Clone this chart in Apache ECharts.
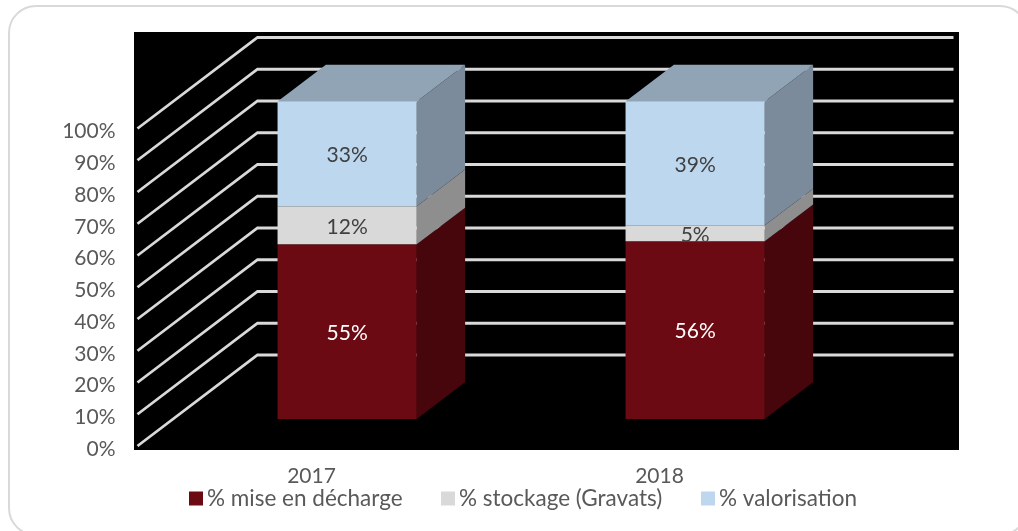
<!DOCTYPE html>
<html>
<head>
<meta charset="utf-8">
<title>Déchets 2017-2018</title>
<style>
  html, body { margin: 0; padding: 0; background: #fff; }
  #chart { width: 1018px; height: 531px; }
</style>
<script src="https://cdn.jsdelivr.net/npm/echarts@6/dist/echarts.min.js"></script>
</head>
<body>
<div id="chart"></div>
<script>
// valeurs
const years = ['2017', '2018'];
const decharge = [55, 56];
const stockage = [12, 5];
const valorisation = [33, 39];
const ticks = [0, 10, 20, 30, 40, 50, 60, 70, 80, 90, 100];

const FONT = 'Lato, "Open Sans", sans-serif';
const TEXT_COLOR = '#595959';

// profondeur du faux 3D : decalage entre le plan avant et le mur du fond
const DEPTH_X = 120;
const DEPTH_Y = 91;
const BAR_FRONT = 0.297;
const BAR_BACK = 0.7;
const BAR_WIDTH = 0.4;

const chart = echarts.init(document.getElementById('chart'));

// une colonne : face avant, cote droit et eventuellement le dessus
function renderSegment(colors, labelColor, withTop) {
  return function (params, api) {
    const cat = api.value(0);
    const low = api.coord([cat, api.value(1)]);
    const high = api.coord([cat, api.value(2)]);
    const w = api.size([1, 0])[0] * BAR_WIDTH;
    const x0 = low[0] + DEPTH_X * BAR_FRONT - w / 2;
    const x1 = x0 + w;
    const y0 = low[1] - DEPTH_Y * BAR_FRONT;
    const y1 = high[1] - DEPTH_Y * BAR_FRONT;
    const dx = DEPTH_X * (BAR_BACK - BAR_FRONT);
    const dy = DEPTH_Y * (BAR_BACK - BAR_FRONT);

    const children = [
      {
        type: 'polygon',
        shape: { points: [[x1, y0], [x1 + dx, y0 - dy], [x1 + dx, y1 - dy], [x1, y1]] },
        style: { fill: colors.side }
      },
      {
        type: 'rect',
        shape: { x: x0, y: y1, width: w, height: y0 - y1 },
        style: { fill: colors.front }
      }
    ];
    if (withTop) {
      children.push({
        type: 'polygon',
        shape: { points: [[x0, y1], [x0 + dx, y1 - dy], [x1 + dx, y1 - dy], [x1, y1]] },
        style: { fill: colors.top }
      });
    }
    children.push({
      type: 'text',
      style: {
        x: (x0 + x1) / 2,
        y: (y0 + y1) / 2 + 1.5,
        text: (api.value(2) - api.value(1)) + '%',
        align: 'center',
        verticalAlign: 'middle',
        fill: labelColor,
        font: '21px ' + FONT
      }
    });
    return { type: 'group', children: children };
  };
}

// quadrillage : diagonale sur le plancher de gauche puis horizontale sur le mur du fond
function renderGridLine(params, api) {
  const sys = params.coordSys;
  const y = api.coord([0, api.value(0)])[1];
  return {
    type: 'polyline',
    shape: {
      points: [
        [sys.x, y],
        [sys.x + DEPTH_X, y - DEPTH_Y],
        [sys.x + sys.width + DEPTH_X, y - DEPTH_Y]
      ]
    },
    style: { fill: null, stroke: '#D9D9D9', lineWidth: 2.8 }
  };
}

function segmentData(values, bases) {
  return values.map(function (v, i) { return [i, bases[i], bases[i] + v]; });
}

const base1 = decharge;
const base2 = decharge.map(function (v, i) { return v + stockage[i]; });

function legendAt(name, left) {
  return {
    data: [name],
    left: left,
    top: 482,
    itemWidth: 14,
    itemHeight: 14,
    itemGap: 0,
    icon: 'rect',
    textStyle: { color: TEXT_COLOR, fontFamily: FONT, fontSize: 22.5, padding: [0, 0, 0, -1] }
  };
}

chart.setOption({
  animation: false,
  backgroundColor: '#fff',
  // cadre arrondi et fond noir de la zone de trace
  graphic: [
    {
      type: 'rect',
      shape: { x: 9, y: 6, width: 1018, height: 529, r: 27 },
      style: { fill: '#fff', stroke: '#D9D9D9', lineWidth: 2 },
      silent: true,
      z: -2
    },
    {
      type: 'rect',
      shape: { x: 134, y: 32, width: 825, height: 418 },
      style: { fill: '#000' },
      silent: true,
      z: -1
    }
  ],
  grid: { left: 137.5, width: 696, top: 128.5, height: 317.5 },
  xAxis: {
    type: 'category',
    data: years,
    axisLine: { show: false },
    axisTick: { show: false },
    axisLabel: { color: TEXT_COLOR, fontFamily: FONT, fontSize: 21, margin: 20 }
  },
  yAxis: {
    type: 'value',
    min: 0,
    max: 100,
    interval: 10,
    splitLine: { show: false },
    axisLine: { show: false },
    axisTick: { show: false },
    axisLabel: {
      margin: 22,
      formatter: '{t|{value}%}',
      rich: {
        t: {
          color: TEXT_COLOR,
          fontFamily: FONT,
          fontSize: 21,
          padding: [6, 0, 0, 0]
        }
      }
    }
  },
  legend: [
    legendAt('% mise en décharge', 184),
    legendAt('% stockage (Gravats)', 436),
    legendAt('% valorisation', 696)
  ],
  series: [
    {
      name: 'grille',
      type: 'custom',
      silent: true,
      renderItem: renderGridLine,
      data: ticks.map(function (t) { return [t]; }),
      encode: { y: 0 }
    },
    {
      name: '% mise en décharge',
      type: 'custom',
      silent: true,
      itemStyle: { color: '#6C0A14' },
      renderItem: renderSegment({ front: '#6C0A14', side: '#47060C' }, '#FFFFFF', false),
      data: segmentData(decharge, [0, 0]),
      encode: { x: 0, y: [1, 2] }
    },
    {
      name: '% stockage (Gravats)',
      type: 'custom',
      silent: true,
      itemStyle: { color: '#D9D9D9' },
      renderItem: renderSegment({ front: '#D9D9D9', side: '#8E8E8E' }, '#404040', false),
      data: segmentData(stockage, base1),
      encode: { x: 0, y: [1, 2] }
    },
    {
      name: '% valorisation',
      type: 'custom',
      silent: true,
      itemStyle: { color: '#BDD7EE' },
      renderItem: renderSegment({ front: '#BDD7EE', side: '#7B8B9B', top: '#90A4B6' }, '#404040', true),
      data: segmentData(valorisation, base2),
      encode: { x: 0, y: [1, 2] }
    }
  ]
});
</script>
</body>
</html>
